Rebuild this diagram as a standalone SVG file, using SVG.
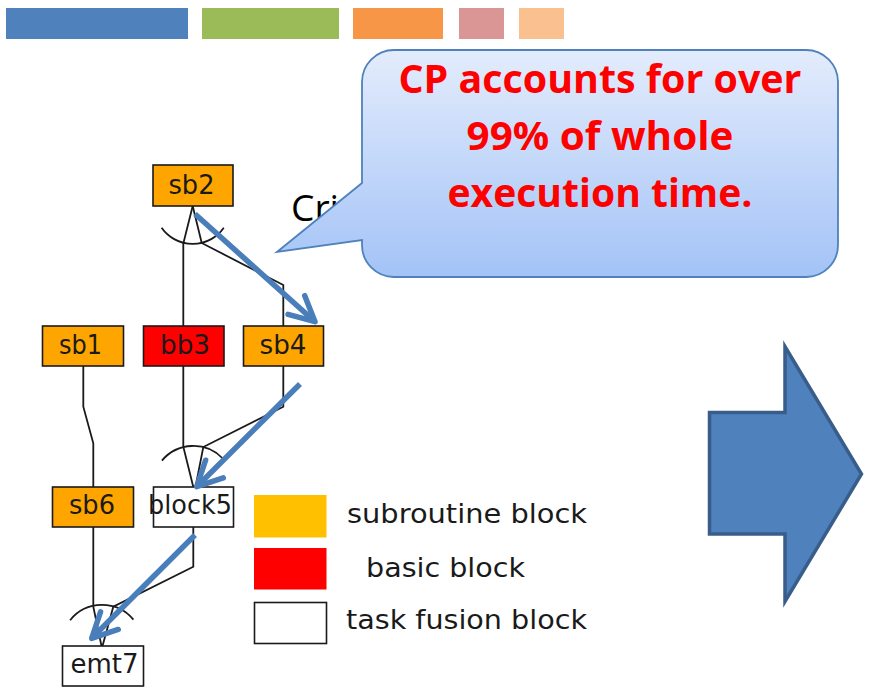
<svg xmlns="http://www.w3.org/2000/svg" width="881" height="688" viewBox="0 0 881 688">
  <defs>
    <linearGradient id="calloutFill" x1="0" y1="0" x2="0" y2="1">
      <stop offset="0" stop-color="#E3ECFC"/>
      <stop offset="1" stop-color="#A3C3F6"/>
    </linearGradient>
    <marker id="openHead" markerUnits="userSpaceOnUse" markerWidth="40" markerHeight="40" viewBox="-30 -20 40 40" refX="0" refY="0" orient="auto" overflow="visible">
      <path d="M-25,-12.5 L0,0 L-25,12.5" fill="none" stroke="#4A7EBB" stroke-width="5.5" stroke-linecap="round" stroke-linejoin="round"/>
    </marker>
    <style>
      .node rect { stroke: #1A1A1A; stroke-width: 1.6; }
      .sub { fill: #FFA500; }
      .basic { fill: #FF0000; }
      .fusion { fill: #FFFFFF; }
      .label { font-family: "DejaVu Sans", Verdana, sans-serif; font-size: 26px; fill: #1A1A1A; text-anchor: middle; }
      .edge { fill: none; stroke: #1A1A1A; stroke-width: 1.8; stroke-linejoin: miter; }
      .cp { fill: none; stroke: #4A7EBB; stroke-width: 5.5; stroke-linecap: butt; marker-end: url(#openHead); }
      .legend-text { font-family: "DejaVu Sans", Verdana, sans-serif; font-size: 26px; fill: #1A1A1A; }
      .callout-text { font-family: "Open Sans", "Liberation Sans", sans-serif; font-weight: bold; font-size: 39px; fill: #FF0000; text-anchor: middle; }
    </style>
  </defs>

  <!-- colour strip along the top -->
  <g id="top-strip">
    <rect x="6" y="8" width="182" height="31" fill="#4F81BD"/>
    <rect x="202" y="8" width="137" height="31" fill="#9BBB59"/>
    <rect x="353" y="8" width="90" height="31" fill="#F79646"/>
    <rect x="459" y="8" width="45" height="31" fill="#D99694"/>
    <rect x="519" y="8" width="45" height="31" fill="#FAC090"/>
  </g>

  <!-- label partly hidden by the callout -->
  <text x="291" y="221" font-family="'Open Sans', 'Liberation Sans', sans-serif" font-size="36" fill="#000" textLength="48" lengthAdjust="spacingAndGlyphs">Cri</text>

  <!-- task graph edges -->
  <g id="edges">
    <path class="edge" d="M192.7,206 L183.3,243.5 L183.3,326"/>
    <path class="edge" d="M192.7,206 L201.7,243 L283.3,285 L283.3,326"/>
    <path class="edge" d="M161.6,227.8 A38,38 0 0 0 223.8,227.8"/>

    <path class="edge" d="M83.3,366 L83.3,406.7 L93.3,443.3 L93.3,487"/>
    <path class="edge" d="M183.3,366 L183.3,446.7 L193.3,487"/>
    <path class="edge" d="M283.3,366 L283.3,406.7 L203.3,447 L195.5,487"/>
    <path class="edge" d="M161.9,460.6 A41,41 0 0 1 222.8,458.5"/>

    <path class="edge" d="M193.3,527 L193.3,566.7 L113.3,606.7 L102.5,646"/>
    <path class="edge" d="M93.3,527 L93.3,606.7 L101.5,646"/>
    <path class="edge" d="M70.1,620.2 A41,41 0 0 1 133.4,619.6"/>
  </g>

  <!-- task graph nodes -->
  <g id="sb2" class="node"><rect class="sub" x="153" y="165" width="80" height="41"/><text class="label" x="191.5" y="193.5" textLength="46" lengthAdjust="spacingAndGlyphs">sb2</text></g>
  <g id="sb1" class="node"><rect class="sub" x="42.5" y="326" width="81" height="40"/><text class="label" x="80.5" y="354" textLength="43" lengthAdjust="spacingAndGlyphs">sb1</text></g>
  <g id="bb3" class="node"><rect class="basic" x="143.5" y="326" width="80.5" height="40"/><text class="label" x="185" y="354" textLength="50" lengthAdjust="spacingAndGlyphs">bb3</text></g>
  <g id="sb4" class="node"><rect class="sub" x="243.5" y="326" width="80" height="40"/><text class="label" x="283" y="354" textLength="47" lengthAdjust="spacingAndGlyphs">sb4</text></g>
  <g id="sb6" class="node"><rect class="sub" x="52.5" y="487" width="81" height="40"/><text class="label" x="92" y="514" textLength="46" lengthAdjust="spacingAndGlyphs">sb6</text></g>
  <g id="block5" class="node"><rect class="fusion" x="153.5" y="487" width="80" height="40"/><text class="label" x="190" y="514" textLength="84" lengthAdjust="spacingAndGlyphs">block5</text></g>
  <g id="emt7" class="node"><rect class="fusion" x="62.5" y="646" width="81" height="40"/><text class="label" x="104.5" y="673" textLength="68" lengthAdjust="spacingAndGlyphs">emt7</text></g>

  <!-- critical path arrows -->
  <g id="critical-path">
    <path class="cp" d="M195,214 L315,321.7"/>
    <path class="cp" d="M300,384 L196.7,486.7"/>
    <path class="cp" d="M195,535 L91.7,638.3"/>
  </g>

  <!-- legend -->
  <g id="legend">
    <rect x="254" y="495" width="72.5" height="42.5" fill="#FFC000"/>
    <rect x="254" y="548" width="72.5" height="41.5" fill="#FF0000"/>
    <rect x="254.5" y="602.5" width="72" height="41" fill="#FFFFFF" stroke="#1A1A1A" stroke-width="1.6"/>
    <text class="legend-text" x="347" y="523" textLength="240" lengthAdjust="spacingAndGlyphs">subroutine block</text>
    <text class="legend-text" x="366" y="577" textLength="159" lengthAdjust="spacingAndGlyphs">basic block</text>
    <text class="legend-text" x="346" y="628.5" textLength="241" lengthAdjust="spacingAndGlyphs">task fusion block</text>
  </g>

  <!-- callout -->
  <g id="callout">
    <path d="M394,50 H806 A32,32 0 0 1 838,82 V245 A32,32 0 0 1 806,277 H394 A32,32 0 0 1 362,245 V240 L277,252 L362,183 V82 A32,32 0 0 1 394,50 Z" fill="url(#calloutFill)" stroke="#4F81BD" stroke-width="1.8"/>
    <text class="callout-text" x="600" y="93" textLength="403" lengthAdjust="spacingAndGlyphs">CP accounts for over</text>
    <text class="callout-text" x="600" y="150" textLength="267" lengthAdjust="spacingAndGlyphs">99% of whole</text>
    <text class="callout-text" x="600" y="207" textLength="305" lengthAdjust="spacingAndGlyphs">execution time.</text>
  </g>

  <!-- block arrow -->
  <g id="block-arrow">
    <path d="M709.5,412.5 H785 V346.5 L861.5,474 L785,601.5 V534 H709.5 Z" fill="#4F81BD" stroke="#385D8A" stroke-width="3.5" stroke-linejoin="miter"/>
  </g>
</svg>
